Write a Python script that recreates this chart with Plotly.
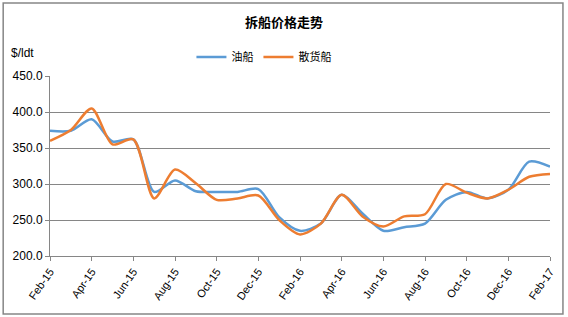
import plotly.graph_objects as go

months = ["Feb-15", "Mar-15", "Apr-15", "May-15", "Jun-15", "Jul-15", "Aug-15", "Sep-15",
          "Oct-15", "Nov-15", "Dec-15", "Jan-16", "Feb-16", "Mar-16", "Apr-16", "May-16",
          "Jun-16", "Jul-16", "Aug-16", "Sep-16", "Oct-16", "Nov-16", "Dec-16", "Jan-17", "Feb-17"]
tanker = [374, 374, 390, 359, 362, 289, 305, 290, 289, 289, 293, 254, 235,
          245, 285, 259, 235, 240, 245, 278, 289, 280, 292, 331, 324]
bulk = [360, 375, 405, 355, 362, 280, 320, 301, 278, 280, 284, 250, 230,
        245, 285, 255, 241, 255, 258, 300, 288, 280, 292, 310, 314]
tick_labels = months[::2]

fig = go.Figure()
fig.add_trace(go.Scatter(x=months, y=tanker, name="油船", mode="lines",
                         line=dict(color="#5B9BD5", width=2.5, shape="spline", smoothing=0.8)))
fig.add_trace(go.Scatter(x=months, y=bulk, name="散货船", mode="lines",
                         line=dict(color="#ED7D31", width=2.5, shape="spline", smoothing=0.8)))

fig.update_layout(
    width=568, height=317,
    margin=dict(l=50, r=16, t=76, b=61),
    paper_bgcolor="white", plot_bgcolor="white",
    font=dict(family="Liberation Sans, Arial", size=12, color="#000"),
    title=dict(text="<b>拆船价格走势</b>", x=0.5, xanchor="center", y=0.93, yanchor="middle",
               font=dict(family="Noto Sans CJK SC", size=13, color="#000")),
    showlegend=True,
    legend=dict(orientation="h", x=(192 - 50) / 502, xanchor="left", y=1.105, yanchor="middle",
                font=dict(family="Noto Sans CJK SC", size=11), bgcolor="rgba(0,0,0,0)",
                itemwidth=30),
    xaxis=dict(type="category", tickmode="array", tickvals=tick_labels, ticktext=tick_labels,
               tickangle=-55, ticks="outside", ticklen=4, tickcolor="#868686",
               showline=True, linecolor="#868686", linewidth=1, showgrid=False,
               range=[0, len(months) - 1], tickfont=dict(size=11)),
    yaxis=dict(range=[200, 450], dtick=50, tickformat=".1f", showgrid=True,
               gridcolor="#868686", gridwidth=1, ticks="outside", ticklen=4,
               tickcolor="#868686", showline=True, linecolor="#868686",
               zeroline=False, tickfont=dict(size=12)),
    annotations=[dict(text="$/ldt", xref="paper", yref="paper", x=(22 - 50) / 502, y=1.13,
                      xanchor="center", yanchor="middle", showarrow=False,
                      font=dict(size=12))],
    shapes=[dict(type="rect", xref="paper", yref="paper",
                 x0=-47/502, x1=1 + 13/502, y0=-58/180, y1=1 + 73/180,
                 line=dict(color="#868686", width=1.5))],
)

fig.write_html("out.html")
